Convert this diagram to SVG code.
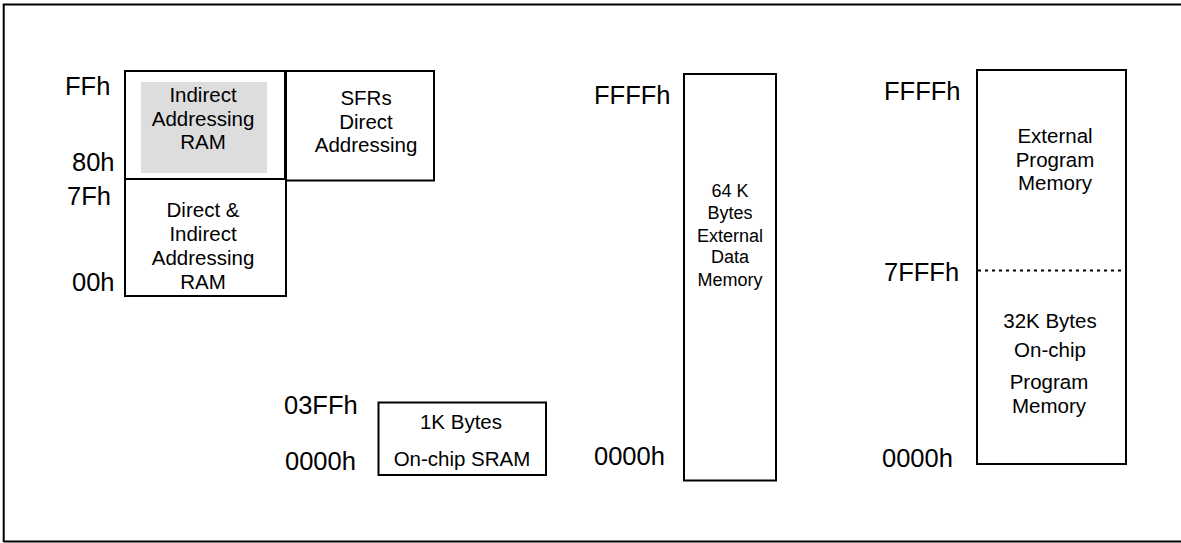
<svg xmlns="http://www.w3.org/2000/svg" width="1181" height="543" viewBox="0 0 1181 543">
<style>
.box{fill:#fff;stroke:#000;stroke-width:2}
.lbl{font-family:"Liberation Sans",Arial,sans-serif;font-size:25.5px;fill:#000}
.t{font-family:"Liberation Sans",Arial,sans-serif;font-size:20.5px;fill:#000;text-anchor:middle}
.s{font-family:"Liberation Sans",Arial,sans-serif;font-size:18px;fill:#000;text-anchor:middle}
</style>
<rect width="1181" height="543" fill="#fff"/>
<path d="M3.7,542 V4.5 H1181 M3.7,541.5 H1181" fill="none" stroke="#000" stroke-width="2"/>
<g id="labels">
<text class="lbl" x="65" y="95">FFh</text>
<text class="lbl" x="72" y="171">80h</text>
<text class="lbl" x="67" y="205">7Fh</text>
<text class="lbl" x="72" y="291">00h</text>
<text class="lbl" x="284" y="414">03FFh</text>
<text class="lbl" x="285" y="470">0000h</text>
<text class="lbl" x="594" y="104">FFFFh</text>
<text class="lbl" x="594" y="465">0000h</text>
<text class="lbl" x="884" y="100">FFFFh</text>
<text class="lbl" x="884" y="281">7FFFh</text>
<text class="lbl" x="882" y="467">0000h</text>
</g>
<g id="indirect-ram">
<rect class="box" x="125" y="71" width="160" height="108"/>
<rect x="141" y="82" width="126" height="91" fill="#dddddd"/>
<text class="t" x="203" y="102">Indirect</text>
<text class="t" x="203" y="125.5">Addressing</text>
<text class="t" x="203" y="149">RAM</text>
</g>
<g id="sfrs">
<rect class="box" x="286" y="71" width="148" height="109.5"/>
<text class="t" x="366" y="105">SFRs</text>
<text class="t" x="366" y="128.5">Direct</text>
<text class="t" x="366" y="151.5">Addressing</text>
</g>
<g id="direct-ram">
<rect class="box" x="125" y="179" width="161" height="117"/>
<text class="t" x="203" y="217">Direct &amp;</text>
<text class="t" x="203" y="241">Indirect</text>
<text class="t" x="203" y="265">Addressing</text>
<text class="t" x="203" y="288.5">RAM</text>
</g>
<g id="sram">
<rect class="box" x="378.5" y="402.5" width="167.5" height="72.5"/>
<text class="t" x="461" y="428.5">1K Bytes</text>
<text class="t" x="462" y="466">On-chip SRAM</text>
</g>
<g id="ext-data">
<rect class="box" x="684" y="74" width="92" height="406.5"/>
<text class="s" x="730" y="197">64 K</text>
<text class="s" x="730" y="219">Bytes</text>
<text class="s" x="730" y="241.5">External</text>
<text class="s" x="730" y="263">Data</text>
<text class="s" x="730" y="285.5">Memory</text>
</g>
<g id="program-memory">
<rect class="box" x="977" y="70" width="149" height="394"/>
<line x1="978" y1="270.5" x2="1125" y2="270.5" stroke="#000" stroke-width="1.8" stroke-dasharray="3 4"/>
<text class="t" x="1055" y="142.5">External</text>
<text class="t" x="1055" y="166.5">Program</text>
<text class="t" x="1055" y="190">Memory</text>
<text class="t" x="1050" y="327.5">32K Bytes</text>
<text class="t" x="1050" y="356.5">On-chip</text>
<text class="t" x="1049" y="388.5">Program</text>
<text class="t" x="1049" y="412.5">Memory</text>
</g>
</svg>
